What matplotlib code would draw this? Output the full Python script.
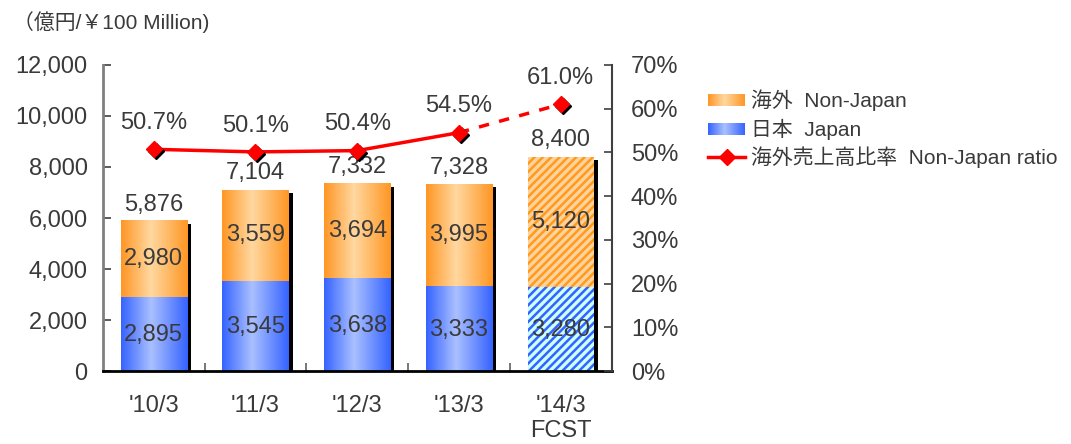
import numpy as np
import matplotlib.pyplot as plt
from matplotlib.colors import LinearSegmentedColormap
from matplotlib.lines import Line2D
from matplotlib.transforms import offset_copy

categories = ["'10/3", "'11/3", "'12/3", "'13/3", "'14/3\nFCST"]
japan = [2895, 3545, 3638, 3333, 3280]
non_japan = [2980, 3559, 3694, 3995, 5120]
totals = [5876, 7104, 7332, 7328, 8400]
ratio = [50.7, 50.1, 50.4, 54.5, 61.0]
forecast = [False, False, False, False, True]

plt.rcParams['font.family'] = ['Liberation Sans', 'Noto Sans CJK JP']
plt.rcParams['hatch.linewidth'] = 1.8
txt = '#3a3a3a'
fs = 17

blue_cm = LinearSegmentedColormap.from_list('b', [(0, '#3563ff'), (0.45, '#aac0ff'), (1, '#3563ff')])
orange_cm = LinearSegmentedColormap.from_list('o', [(0, '#ff9624'), (0.45, '#ffd8a0'), (1, '#ff9624')])
grad = np.linspace(0, 1, 256).reshape(1, -1)

fig = plt.figure(figsize=(10.71, 4.44), dpi=100)
ax = fig.add_axes([0.096, 0.164, 0.475, 0.690])
ax2 = ax.twinx()

x = np.arange(len(categories))
w = 0.65

# shadows
shadow_tr = offset_copy(ax.transData, fig=fig, x=4, y=-3, units='dots')
ax.bar(x, totals, width=w, color='black', transform=shadow_tr, zorder=1)

for i in x:
    j, n = japan[i], non_japan[i]
    if forecast[i]:
        ax.bar(i, j, width=w, facecolor='#ccffff', edgecolor='#3563ff', hatch='////', lw=0, zorder=2)
        ax.bar(i, n, bottom=j, width=w, facecolor='#ffd3a0', edgecolor='#ff9a1a', hatch='////', lw=0, zorder=2)
    else:
        ax.imshow(grad, cmap=blue_cm, extent=[i - w / 2, i + w / 2, 0, j], aspect='auto', zorder=2)
        ax.imshow(grad, cmap=orange_cm, extent=[i - w / 2, i + w / 2, j, j + n], aspect='auto', zorder=2)
    ax.text(i, j / 2 - 40, f'{j:,}', ha='center', va='center', fontsize=fs, color=txt, zorder=4)
    ax.text(i, j + n / 2, f'{n:,}', ha='center', va='center', fontsize=fs, color=txt, zorder=4)
    ax.annotate(f'{totals[i]:,}', (i, totals[i]), xytext=(0, 4), textcoords='offset points',
                ha='center', va='bottom', fontsize=fs, color=txt)

ax.set_xlim(-0.5, 4.5)
ax.set_ylim(0, 12000)
ax.set_yticks(range(0, 12001, 2000))
ax.set_yticklabels([f'{v:,}' for v in range(0, 12001, 2000)])
ax.set_xticks(x)
ax.set_xticklabels(categories)
ax.set_xticks(x[:-1] + 0.5, minor=True)
ax.tick_params(axis='x', which='major', length=0, pad=17, labelsize=fs, labelcolor=txt)
ax.tick_params(axis='x', which='minor', direction='in', length=6, width=1.2, color='#606060')
ax.tick_params(axis='y', direction='in', length=6, width=1.2, color='#404040', pad=11,
               labelsize=fs, labelcolor=txt)
for s in ['top', 'right']:
    ax.spines[s].set_visible(False)
ax.spines['left'].set_color('#808080')
ax.spines['left'].set_linewidth(2)
ax.spines['bottom'].set_color('black')
ax.spines['bottom'].set_linewidth(2)

# ratio line
ax2.plot(x[:4], ratio[:4], color='red', lw=2.5, zorder=3)
ax2.plot(x[3:], ratio[3:], color='red', lw=2.5, ls=(0, (3, 3)), zorder=3)
mshadow = offset_copy(ax2.transData, fig=fig, x=2, y=-2, units='dots')
ax2.plot(x, ratio, ls='none', marker='D', ms=8, color='black', transform=mshadow, zorder=4)
ax2.plot(x, ratio, ls='none', marker='D', ms=8, color='red', zorder=5)
for i in x:
    ax2.annotate(f'{ratio[i]:.1f}%', (i, ratio[i]), xytext=(0, 11), textcoords='offset points',
                 ha='center', va='bottom', fontsize=fs, color=txt)
ax2.set_ylim(0, 70)
ax2.set_yticks(range(0, 71, 10))
ax2.set_yticklabels([f'{v}%' for v in range(0, 71, 10)])
ax2.tick_params(axis='y', direction='in', length=6, width=1.2, color='#404040', pad=14,
                labelsize=fs, labelcolor=txt)
for s in ['top', 'left', 'bottom']:
    ax2.spines[s].set_visible(False)
ax2.spines['right'].set_color('#404040')
ax2.spines['right'].set_linewidth(1.5)

fig.text(0.012, 1 - 22 / 444, '（億円/￥100 Million)', fontsize=15, color=txt, va='center')

# legend
W, H = 1071, 444
for yc, cm, label in [(100, orange_cm, '海外  Non-Japan'), (129, blue_cm, '日本  Japan')]:
    sw = fig.add_axes([708 / W, 1 - (yc + 6) / H, 37 / W, 12 / H])
    sw.imshow(grad, cmap=cm, aspect='auto')
    sw.axis('off')
    fig.text(751 / W, 1 - yc / H, label, fontsize=15, color=txt, va='center')
fig.add_artist(Line2D([708 / W, 745 / W], [1 - 157 / H] * 2, color='red', lw=2.5))
fig.add_artist(Line2D([727 / W], [1 - 157 / H], marker='D', ms=8, color='red', ls='none'))
fig.text(751 / W, 1 - 157 / H, '海外売上高比率  Non-Japan ratio', fontsize=15, color=txt, va='center')

fig.savefig('out.png', dpi=100)
